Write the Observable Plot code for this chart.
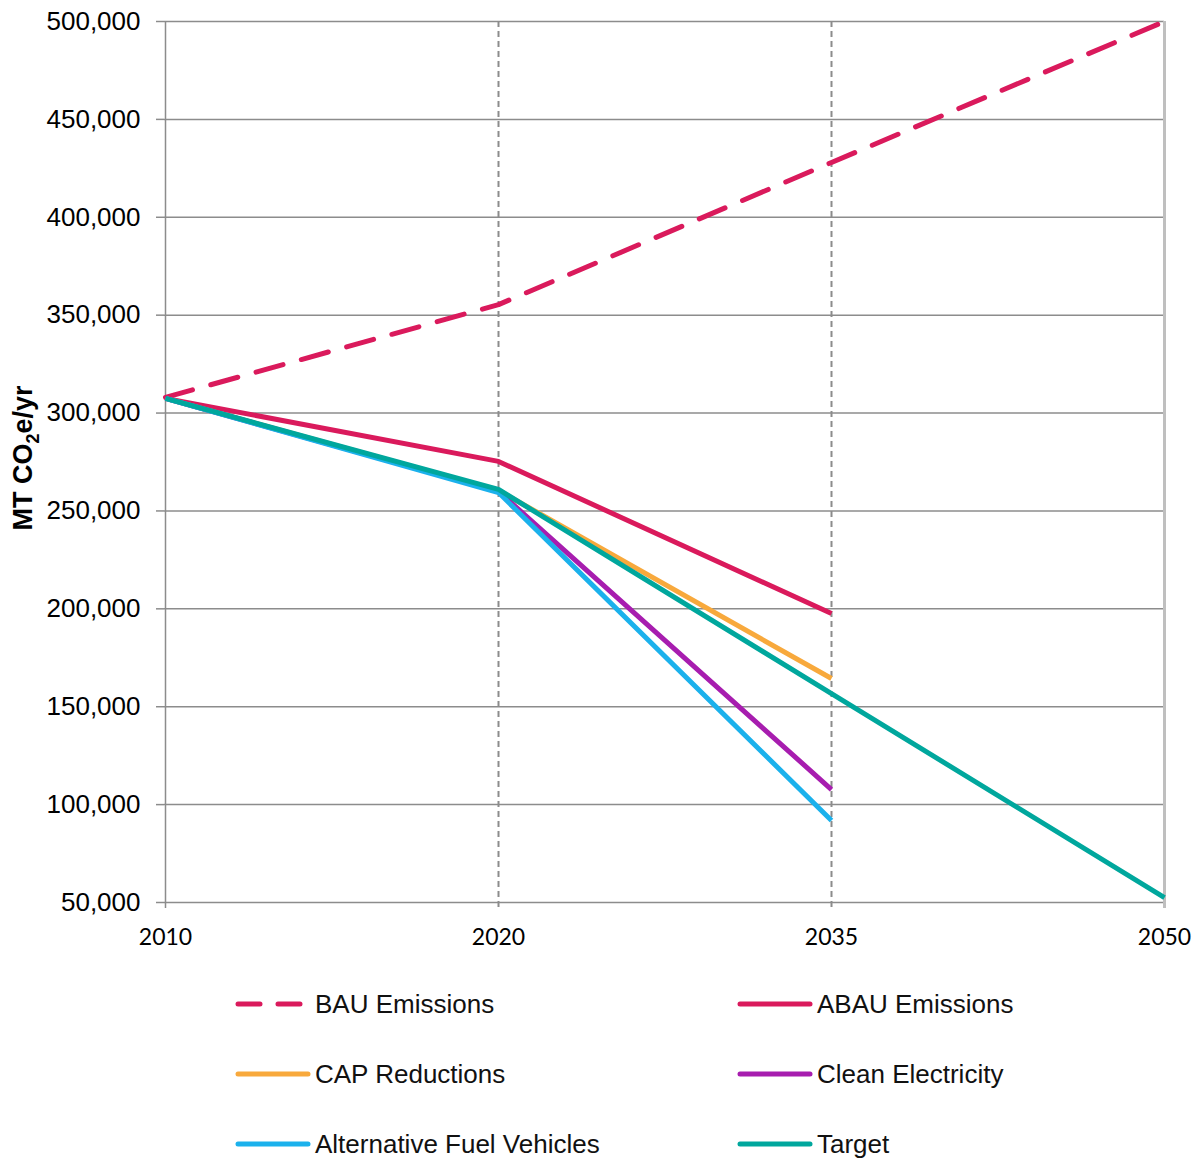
<!DOCTYPE html>
<html>
<head>
<meta charset="utf-8">
<script src="https://cdn.jsdelivr.net/npm/d3@7"></script>
<script src="https://cdn.jsdelivr.net/npm/@observablehq/plot@0.6"></script>
<style>
  body { margin: 0; background: #fff; }
  #wrap { position: relative; width: 1201px; height: 1163px; font-family: "Liberation Sans", Arial, sans-serif; }
  .leg { position: absolute; display: flex; align-items: center; font-size: 26px; color: #111; height: 30px; }
  .leg svg { margin-right: 4px; }
</style>
</head>
<body>
<div id="wrap">
  <div id="chart"></div>
  <div id="legend"></div>
</div>
<script>
const years = ["2010", "2020", "2035", "2050"];
const seriesNames = ["BAU Emissions", "ABAU Emissions", "CAP Reductions", "Clean Electricity", "Alternative Fuel Vehicles", "Target"];
const bau      = [308000, 355400, 428000, 500000];
const abau     = [307500, 275300, 197600, null];
const cap      = [307500, 260500, 164400, null];
const cleanEl  = [307500, 260000, 107700, null];
const afv      = [307500, 259400, 91900, null];
const target   = [307500, 261000, 156700, 52500];
const colors   = ["#DA1A5C", "#DA1A5C", "#F8A93C", "#A71DAF", "#1BB1EC", "#00A79D"];
const dashed   = [true, false, false, false, false, false];
const yTicks   = [50000, 100000, 150000, 200000, 250000, 300000, 350000, 400000, 450000, 500000];

const allSeries = [bau, abau, cap, cleanEl, afv, target];
const toRows = (vals) => years.map((y, i) => ({year: y, value: vals[i]})).filter(d => d.value != null);

const lineMarks = allSeries.map((vals, i) => Plot.line(toRows(vals), {
  x: "year", y: "value", stroke: colors[i], strokeWidth: 5,
  strokeLinecap: dashed[i] ? "round" : "butt",
  strokeLinejoin: "round",
  strokeDasharray: dashed[i] ? "28,19" : null
}));

const chart = Plot.plot({
  width: 1201,
  height: 960,
  marginLeft: 164,
  marginRight: 37,
  marginTop: 21,
  marginBottom: 58,
  style: {fontFamily: "'Liberation Sans', Arial, sans-serif", background: "#fff"},
  x: {type: "point", domain: years, padding: 0, label: null},
  y: {domain: [50000, 500000], ticks: yTicks, label: null},
  marks: [
    Plot.gridY(yTicks, {stroke: "#8c8c8c", strokeOpacity: 1, strokeWidth: 1.5}),
    Plot.ruleX([years[0]], {stroke: "#8c8c8c", strokeWidth: 1.5, insetBottom: -6}),
    Plot.ruleX([years[1], years[2]], {stroke: "#8c8c8c", strokeWidth: 2, strokeDasharray: "6,4", insetBottom: -6}),
    Plot.ruleX([years[3]], {stroke: "#bfbfbf", strokeWidth: 3, insetBottom: -6}),
    Plot.axisY(yTicks, {tickSize: 8, tickPadding: 16, stroke: "#8c8c8c", strokeWidth: 1.5, tickFormat: d3.format(","), fontSize: 26, label: null}),
    Plot.axisX(years, {tickSize: 0, tickPadding: 26, fontSize: 23, fontFamily: "Lato, 'Open Sans', sans-serif", label: null}),
    ...lineMarks
  ]
});
document.getElementById("chart").appendChild(chart);

// y-axis title with subscript
const svg = d3.select(chart);
const t = svg.append("text")
  .attr("transform", "translate(32,458) rotate(-90)")
  .attr("text-anchor", "middle")
  .attr("font-family", "'Liberation Sans', Arial, sans-serif")
  .attr("font-weight", "bold")
  .attr("font-size", 27)
  .attr("fill", "#000");
t.append("tspan").text("MT CO");
t.append("tspan").attr("font-size", 18).attr("dy", 7).text("2");
t.append("tspan").attr("dy", -7).text("e/yr");

// legend
const legPos = [[238, 1004], [740, 1004], [238, 1074], [740, 1074], [238, 1144], [740, 1144]];
const legOrder = [0, 1, 2, 3, 4, 5];
const legend = document.getElementById("legend");
legOrder.forEach((i, k) => {
  const [lx, ly] = legPos[k];
  const div = document.createElement("div");
  div.className = "leg";
  div.style.left = (lx - 3) + "px";
  div.style.top = (ly - 15) + "px";
  const ns = "http://www.w3.org/2000/svg";
  const s = document.createElementNS(ns, "svg");
  s.setAttribute("width", 76); s.setAttribute("height", 10);
  const ln = document.createElementNS(ns, "line");
  ln.setAttribute("x1", 3); ln.setAttribute("x2", 73);
  ln.setAttribute("y1", 5); ln.setAttribute("y2", 5);
  ln.setAttribute("stroke", colors[i]);
  ln.setAttribute("stroke-width", 5);
  ln.setAttribute("stroke-linecap", "round");
  if (dashed[i]) { ln.setAttribute("stroke-dasharray", "22,18"); }
  s.appendChild(ln);
  div.appendChild(s);
  const sp = document.createElement("span");
  sp.textContent = seriesNames[i];
  div.appendChild(sp);
  legend.appendChild(div);
});
</script>
</body>
</html>
